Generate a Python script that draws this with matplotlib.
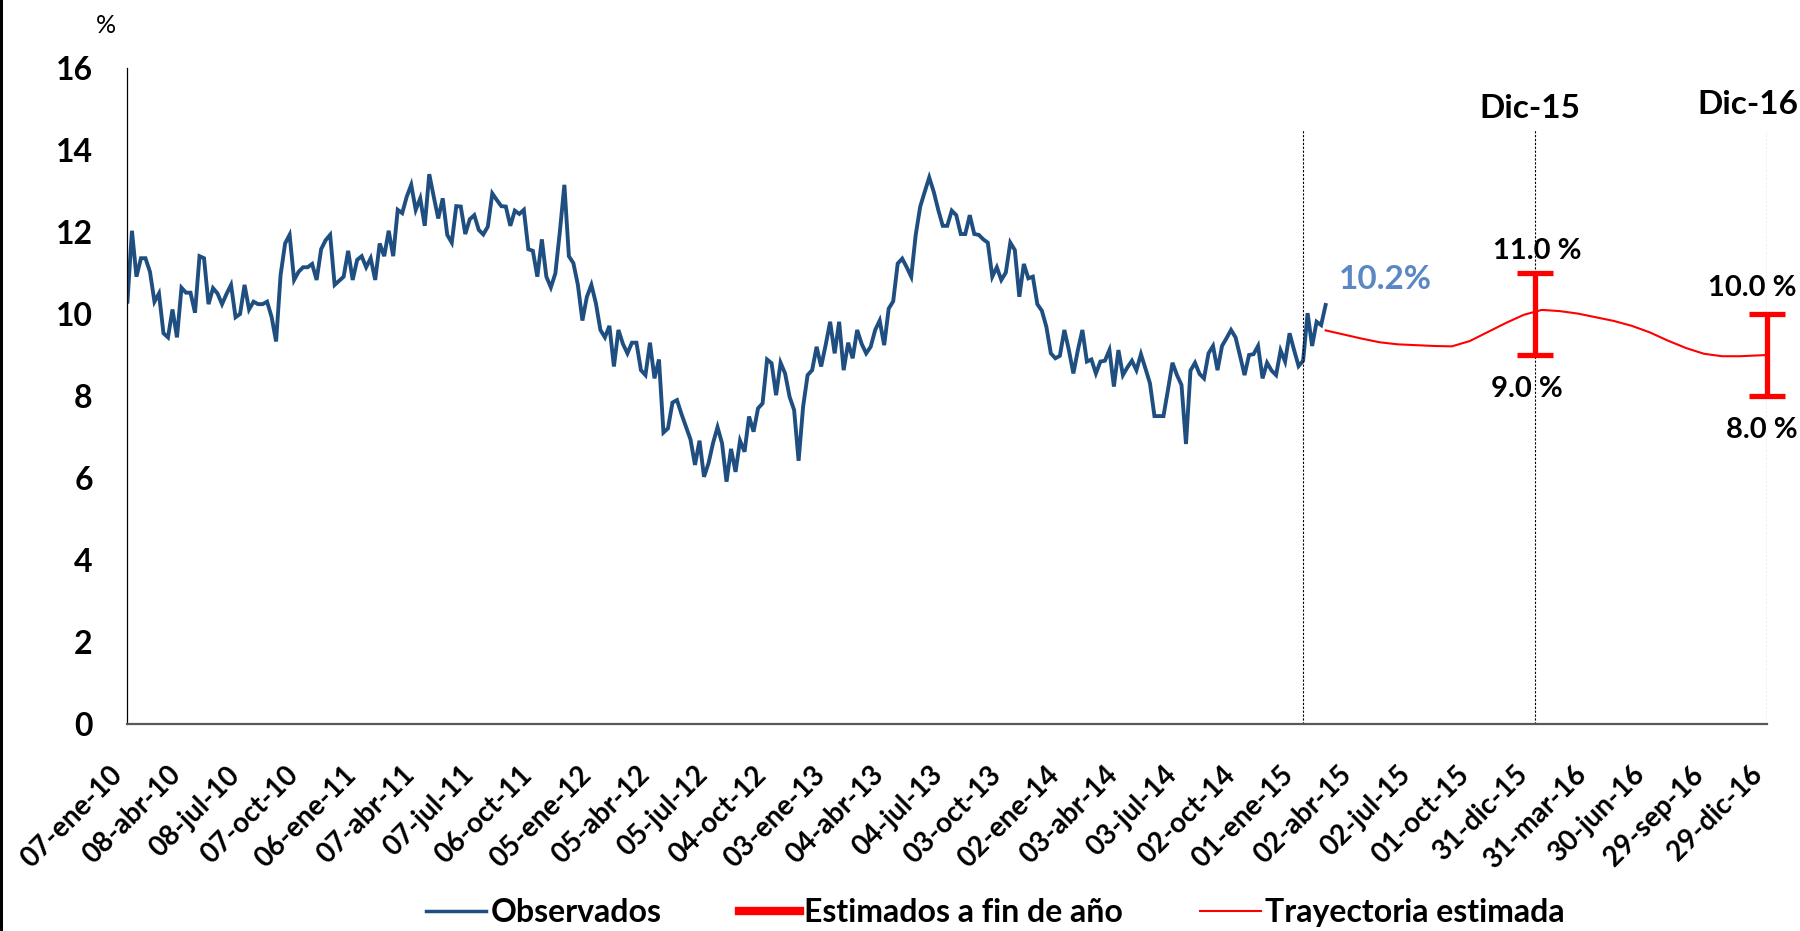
import pandas as pd
import numpy as np
import matplotlib
matplotlib.use("Agg")
import matplotlib.pyplot as plt
from matplotlib.lines import Line2D

plt.rcParams['font.family'] = ['Lato', 'DejaVu Sans']

#%% data

# observed weekly series (Thursdays, from 07-ene-10)
obs = [10.30, 12.03, 10.91, 11.36, 11.36, 11.03, 10.30, 10.50, 9.53, 9.43,
       10.11, 9.43, 10.64, 10.52, 10.52, 10.03, 11.41, 11.36, 10.24, 10.63,
       10.50, 10.24, 10.49, 10.71, 9.92, 10.00, 10.71, 10.11, 10.30, 10.24,
       10.24, 10.30, 9.93, 9.33, 10.95, 11.72, 11.93, 10.83, 11.03, 11.14,
       11.14, 11.22, 10.83, 11.58, 11.80, 11.93, 10.71, 10.81, 10.91, 11.54,
       10.83, 11.32, 11.41, 11.14, 11.36, 10.83, 11.72, 11.41, 12.03, 11.41,
       12.54, 12.46, 12.86, 13.15, 12.54, 12.82, 12.15, 13.41, 12.86, 12.33,
       12.82, 11.93, 11.74, 12.63, 12.62, 11.95, 12.31, 12.41, 12.05, 11.94,
       12.13, 12.94, 12.78, 12.63, 12.62, 12.15, 12.52, 12.44, 12.54, 11.58,
       11.54, 10.91, 11.82, 10.91, 10.65, 10.99, 12.01, 13.15, 11.41, 11.24,
       10.71, 9.84, 10.42, 10.71, 10.26, 9.61, 9.43, 9.71, 8.72, 9.61,
       9.27, 9.04, 9.30, 9.30, 8.63, 8.51, 9.30, 8.43, 8.89, 7.11,
       7.21, 7.84, 7.90, 7.56, 7.25, 6.94, 6.32, 6.91, 6.03, 6.36,
       6.85, 7.24, 6.85, 5.91, 6.71, 6.15, 6.91, 6.64, 7.50, 7.13,
       7.70, 7.82, 8.89, 8.80, 8.02, 8.81, 8.55, 7.98, 7.66, 6.42,
       7.74, 8.51, 8.63, 9.20, 8.72, 9.24, 9.81, 9.04, 9.81, 8.63,
       9.30, 8.92, 9.61, 9.27, 9.04, 9.20, 9.61, 9.84, 9.24, 10.13,
       10.31, 11.23, 11.35, 11.14, 10.91, 11.93, 12.62, 12.98, 13.33, 12.98,
       12.54, 12.15, 12.15, 12.52, 12.41, 11.95, 11.95, 12.41, 11.95, 11.93,
       11.82, 11.74, 10.91, 11.14, 10.83, 11.01, 11.74, 11.56, 10.42, 11.22,
       10.87, 10.91, 10.24, 10.08, 9.69, 9.04, 8.92, 8.98, 9.61, 9.12,
       8.55, 9.12, 9.61, 8.84, 8.89, 8.55, 8.84, 8.86, 9.12, 8.23,
       9.12, 8.51, 8.70, 8.86, 8.63, 9.02, 8.67, 8.31, 7.51, 7.51,
       7.51, 8.15, 8.81, 8.51, 8.27, 6.83, 8.62, 8.81, 8.54, 8.43,
       9.04, 9.22, 8.63, 9.22, 9.41, 9.61, 9.43, 8.98, 8.51, 9.00,
       9.02, 9.22, 8.43, 8.81, 8.62, 8.51, 9.11, 8.84, 9.53, 9.12,
       8.73, 8.86, 10.02, 9.22, 9.81, 9.73, 10.22]
obs_dates = pd.date_range('2010-01-07', periods=len(obs), freq='7D')

# estimated path
tray_dates = pd.to_datetime(['2015-02-12', '2015-03-12', '2015-04-09', '2015-05-07',
                             '2015-06-04', '2015-07-02', '2015-07-30', '2015-08-27',
                             '2015-09-24', '2015-10-22', '2015-11-19', '2015-12-17',
                             '2016-01-14', '2016-02-11', '2016-03-10', '2016-04-07',
                             '2016-05-05', '2016-06-02', '2016-06-30', '2016-07-28',
                             '2016-08-25', '2016-09-22', '2016-10-20', '2016-11-17',
                             '2016-12-29'])
tray = [9.60, 9.50, 9.40, 9.31, 9.26, 9.24, 9.22, 9.21, 9.34, 9.56, 9.78, 9.98,
        10.10, 10.07, 10.01, 9.92, 9.83, 9.71, 9.55, 9.35, 9.17, 9.03, 8.97,
        8.97, 9.00]

# end of year ranges
est_dates = pd.to_datetime(['2016-01-03', '2016-12-29'])
est_low = [9.0, 8.0]
est_high = [11.0, 10.0]
est_names = ['Dic-15', 'Dic-16']

vline_dates = pd.to_datetime(['2015-01-08', '2016-01-03', '2016-12-29'])

tick_dates = pd.date_range('2010-01-07', '2016-12-29', freq='91D')
tick_labels = ['07-ene-10', '08-abr-10', '08-jul-10', '07-oct-10', '06-ene-11',
               '07-abr-11', '07-jul-11', '06-oct-11', '05-ene-12', '05-abr-12',
               '05-jul-12', '04-oct-12', '03-ene-13', '04-abr-13', '04-jul-13',
               '03-oct-13', '02-ene-14', '03-abr-14', '03-jul-14', '02-oct-14',
               '01-ene-15', '02-abr-15', '02-jul-15', '01-oct-15', '31-dic-15',
               '31-mar-16', '30-jun-16', '29-sep-16', '29-dic-16']

#%% plot

blue = '#1f4e80'
red = '#ff0000'

fig = plt.figure(figsize=(18, 9.31), dpi=100)
ax = fig.add_axes([0.0708, 0.2223, 0.9109, 0.7047])

ax.plot(obs_dates, obs, color=blue, lw=2.8, solid_joinstyle='miter')
ax.plot(tray_dates, tray, color=red, lw=1.5)

ax.vlines(vline_dates, 0, 14.5, colors='k', lw=0.8, linestyles=(0, (2, 1.5)))

mid = [(l + h) / 2 for l, h in zip(est_low, est_high)]
half = [(h - l) / 2 for l, h in zip(est_low, est_high)]
ax.errorbar(est_dates, mid, yerr=half, fmt='none', ecolor=red, elinewidth=3.8,
            capsize=13, capthick=3.8, clip_on=False, zorder=4)

# labels on the ranges
offs_hi = [(2, 22), (-15, 26)]
offs_lo = [(-8, -34), (-5, -34)]
for d, lo, hi, name, oh, ol in zip(est_dates, est_low, est_high, est_names,
                                   offs_hi, offs_lo):
    ax.annotate(f'{hi:.1f} %', (d, hi), xytext=oh, textcoords='offset pixels',
                ha='center', va='center', fontsize=21, fontweight='bold')
    ax.annotate(f'{lo:.1f} %', (d, lo), xytext=ol, textcoords='offset pixels',
                ha='center', va='center', fontsize=21, fontweight='bold')

ax.text(est_dates[0] - pd.Timedelta(days=8), 15.0, est_names[0], ha='center',
        va='center', fontsize=24, fontweight='bold')
ax.text(est_dates[1] - pd.Timedelta(days=30), 15.1, est_names[1], ha='center',
        va='center', fontsize=24, fontweight='bold')

ax.text(obs_dates[-1] + pd.Timedelta(days=20), 10.83, f'{obs[-1]:.1f}%',
        color='#5b87c5', fontsize=24, fontweight='bold', ha='left', va='center')

ax.set_ylim(0, 16)
ax.set_yticks(np.arange(0, 17, 2))
ax.set_xlim(pd.Timestamp('2010-01-07'), pd.Timestamp('2016-12-29'))
ax.set_xticks(tick_dates)
ax.set_xticklabels(tick_labels, rotation=45, ha='right')
ax.tick_params(axis='y', length=0, pad=25, labelsize=23)
ax.tick_params(axis='x', length=0, pad=27, labelsize=20)
for lab in ax.get_xticklabels() + ax.get_yticklabels():
    lab.set_fontweight('bold')

ax.spines['top'].set_visible(False)
ax.spines['right'].set_visible(False)
ax.spines['left'].set_linewidth(0.9)
ax.spines['bottom'].set_color('#595959')
ax.spines['bottom'].set_linewidth(1.6)

fig.text(0.059, 0.973, '%', fontsize=18, ha='center', va='center')

handles = [Line2D([], [], color=blue, lw=2.5),
           Line2D([], [], color=red, lw=6),
           Line2D([], [], color=red, lw=1.5)]
labels = ['Observados', 'Estimados a fin de año', 'Trayectoria estimada']
fig.legend(handles, labels, loc='center', bbox_to_anchor=(0.553, 0.02), ncol=3,
           frameon=False, prop={'size': 23, 'weight': 'bold'}, handlelength=1.9,
           handletextpad=0.15, columnspacing=2.4)

# black border on the left edge
fig.add_artist(plt.Rectangle((0, 0), 3 / 1800, 1, transform=fig.transFigure,
                             color='k', lw=0))

fig.savefig('out.png', dpi=100)
